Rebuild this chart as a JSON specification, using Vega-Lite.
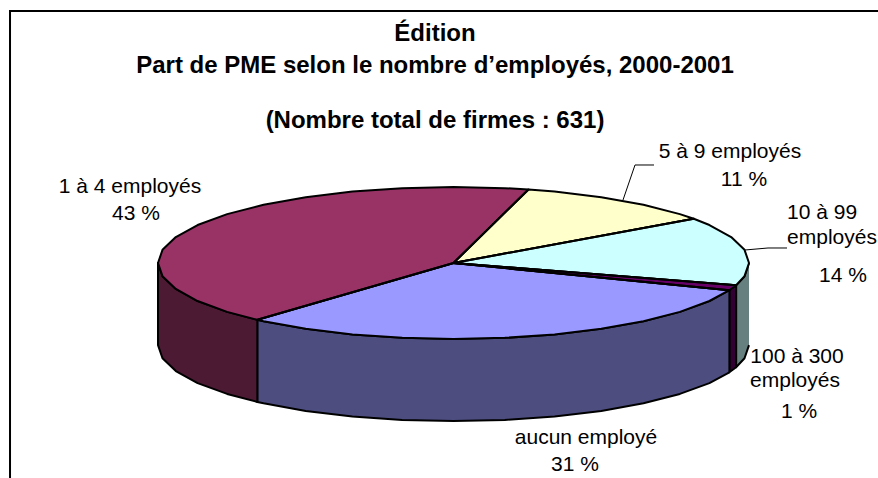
{
"$schema":"https://vega.github.io/schema/vega-lite/v6.json",
"width":878,"height":478,"padding":0,"autosize":"none",
"background":"white",
"title":{"text":["Édition","Part de PME selon le nombre d’employés, 2000-2001"],"subtitle":"(Nombre total de firmes : 631)","font":"Liberation Sans","fontSize":24,"fontWeight":"bold","color":"#000","lineHeight":32,"subtitleFont":"Liberation Sans","subtitleFontSize":24,"subtitleFontWeight":"bold","subtitleColor":"#000","subtitleLineHeight":29,"subtitlePadding":31,"anchor":"middle","dx":-4,"offset":-133,"orient":"top"},
"config":{"view":{"stroke":null}},
"datasets":{
"outline":[
{"p":"wall 10-99","v":1,"x":1,"y":0},{"p":"wall 10-99","v":2,"x":0.9848,"y":-0.1736},{"p":"wall 10-99","v":3,"x":0.9563,"y":-0.2924},{"p":"wall 10-99","v":4,"x":0.9563,"y":-1.3724},{"p":"wall 10-99","v":5,"x":0.9848,"y":-1.2536},{"p":"wall 10-99","v":6,"x":1,"y":-1.08},
{"p":"wall 100-300","v":1,"x":0.9563,"y":-0.2924},{"p":"wall 100-300","v":2,"x":0.9336,"y":-0.3584},{"p":"wall 100-300","v":3,"x":0.9336,"y":-1.4384},{"p":"wall 100-300","v":4,"x":0.9563,"y":-1.3724},
{"p":"wall aucun","v":1,"x":0.9336,"y":-0.3584},{"p":"wall aucun","v":2,"x":0.866,"y":-0.5},{"p":"wall aucun","v":3,"x":0.766,"y":-0.6428},{"p":"wall aucun","v":4,"x":0.6428,"y":-0.766},{"p":"wall aucun","v":5,"x":0.5,"y":-0.866},{"p":"wall aucun","v":6,"x":0.342,"y":-0.9397},{"p":"wall aucun","v":7,"x":0.1736,"y":-0.9848},{"p":"wall aucun","v":8,"x":0,"y":-1},{"p":"wall aucun","v":9,"x":-0.1736,"y":-0.9848},{"p":"wall aucun","v":10,"x":-0.342,"y":-0.9397},{"p":"wall aucun","v":11,"x":-0.5,"y":-0.866},{"p":"wall aucun","v":12,"x":-0.6428,"y":-0.766},{"p":"wall aucun","v":13,"x":-0.6639,"y":-0.7478},
{"p":"wall aucun","v":14,"x":-0.6639,"y":-1.8278},{"p":"wall aucun","v":15,"x":-0.6428,"y":-1.846},{"p":"wall aucun","v":16,"x":-0.5,"y":-1.946},{"p":"wall aucun","v":17,"x":-0.342,"y":-2.0197},{"p":"wall aucun","v":18,"x":-0.1736,"y":-2.0648},{"p":"wall aucun","v":19,"x":0,"y":-2.08},{"p":"wall aucun","v":20,"x":0.1736,"y":-2.0648},{"p":"wall aucun","v":21,"x":0.342,"y":-2.0197},{"p":"wall aucun","v":22,"x":0.5,"y":-1.946},{"p":"wall aucun","v":23,"x":0.6428,"y":-1.846},{"p":"wall aucun","v":24,"x":0.766,"y":-1.7228},{"p":"wall aucun","v":25,"x":0.866,"y":-1.58},{"p":"wall aucun","v":26,"x":0.9336,"y":-1.4384},
{"p":"wall 1-4","v":1,"x":-0.6639,"y":-0.7478},{"p":"wall 1-4","v":2,"x":-0.766,"y":-0.6428},{"p":"wall 1-4","v":3,"x":-0.866,"y":-0.5},{"p":"wall 1-4","v":4,"x":-0.9397,"y":-0.342},{"p":"wall 1-4","v":5,"x":-0.9848,"y":-0.1736},{"p":"wall 1-4","v":6,"x":-1,"y":0},{"p":"wall 1-4","v":7,"x":-1,"y":-1.08},{"p":"wall 1-4","v":8,"x":-0.9848,"y":-1.2536},{"p":"wall 1-4","v":9,"x":-0.9397,"y":-1.422},{"p":"wall 1-4","v":10,"x":-0.866,"y":-1.58},{"p":"wall 1-4","v":11,"x":-0.766,"y":-1.7228},{"p":"wall 1-4","v":12,"x":-0.6639,"y":-1.8278},
{"p":"aucun employé","v":1,"x":0,"y":0},{"p":"aucun employé","v":2,"x":0.9336,"y":-0.3584},{"p":"aucun employé","v":3,"x":0.866,"y":-0.5},{"p":"aucun employé","v":4,"x":0.766,"y":-0.6428},{"p":"aucun employé","v":5,"x":0.6428,"y":-0.766},{"p":"aucun employé","v":6,"x":0.5,"y":-0.866},{"p":"aucun employé","v":7,"x":0.342,"y":-0.9397},{"p":"aucun employé","v":8,"x":0.1736,"y":-0.9848},{"p":"aucun employé","v":9,"x":0,"y":-1},{"p":"aucun employé","v":10,"x":-0.1736,"y":-0.9848},{"p":"aucun employé","v":11,"x":-0.342,"y":-0.9397},{"p":"aucun employé","v":12,"x":-0.5,"y":-0.866},{"p":"aucun employé","v":13,"x":-0.6428,"y":-0.766},{"p":"aucun employé","v":14,"x":-0.6639,"y":-0.7478},{"p":"aucun employé","v":15,"x":0,"y":0},
{"p":"1 à 4 employés","v":1,"x":0,"y":0},{"p":"1 à 4 employés","v":2,"x":-0.6639,"y":-0.7478},{"p":"1 à 4 employés","v":3,"x":-0.766,"y":-0.6428},{"p":"1 à 4 employés","v":4,"x":-0.866,"y":-0.5},{"p":"1 à 4 employés","v":5,"x":-0.9397,"y":-0.342},{"p":"1 à 4 employés","v":6,"x":-0.9848,"y":-0.1736},{"p":"1 à 4 employés","v":7,"x":-1,"y":0},{"p":"1 à 4 employés","v":8,"x":-0.9848,"y":0.1736},{"p":"1 à 4 employés","v":9,"x":-0.9397,"y":0.342},{"p":"1 à 4 employés","v":10,"x":-0.866,"y":0.5},{"p":"1 à 4 employés","v":11,"x":-0.766,"y":0.6428},{"p":"1 à 4 employés","v":12,"x":-0.6428,"y":0.766},{"p":"1 à 4 employés","v":13,"x":-0.5,"y":0.866},{"p":"1 à 4 employés","v":14,"x":-0.342,"y":0.9397},{"p":"1 à 4 employés","v":15,"x":-0.1736,"y":0.9848},{"p":"1 à 4 employés","v":16,"x":0,"y":1},{"p":"1 à 4 employés","v":17,"x":0.1736,"y":0.9848},{"p":"1 à 4 employés","v":18,"x":0.2538,"y":0.9673},{"p":"1 à 4 employés","v":19,"x":0,"y":0},
{"p":"5 à 9 employés","v":1,"x":0,"y":0},{"p":"5 à 9 employés","v":2,"x":0.2538,"y":0.9673},{"p":"5 à 9 employés","v":3,"x":0.342,"y":0.9397},{"p":"5 à 9 employés","v":4,"x":0.5,"y":0.866},{"p":"5 à 9 employés","v":5,"x":0.6428,"y":0.766},{"p":"5 à 9 employés","v":6,"x":0.766,"y":0.6428},{"p":"5 à 9 employés","v":7,"x":0.8131,"y":0.5821},{"p":"5 à 9 employés","v":8,"x":0,"y":0},
{"p":"10 à 99 employés","v":1,"x":0,"y":0},{"p":"10 à 99 employés","v":2,"x":0.8131,"y":0.5821},{"p":"10 à 99 employés","v":3,"x":0.866,"y":0.5},{"p":"10 à 99 employés","v":4,"x":0.9397,"y":0.342},{"p":"10 à 99 employés","v":5,"x":0.9848,"y":0.1736},{"p":"10 à 99 employés","v":6,"x":1,"y":0},{"p":"10 à 99 employés","v":7,"x":0.9848,"y":-0.1736},{"p":"10 à 99 employés","v":8,"x":0.9563,"y":-0.2924},{"p":"10 à 99 employés","v":9,"x":0,"y":0},
{"p":"100 à 300 employés","v":1,"x":0,"y":0},{"p":"100 à 300 employés","v":2,"x":0.9563,"y":-0.2924},{"p":"100 à 300 employés","v":3,"x":0.9336,"y":-0.3584},{"p":"100 à 300 employés","v":4,"x":0,"y":0}
],
"lines":[
{"k":"frame","v":1,"x":-1.5008,"y":-2.8289},{"k":"frame","v":2,"x":-1.5008,"y":3.3158},{"k":"frame","v":3,"x":1.4365,"y":3.3158},
{"k":"e1","v":1,"x":-0.6639,"y":-0.7478},{"k":"e1","v":2,"x":-0.6639,"y":-1.8278},
{"k":"e2","v":1,"x":0.9336,"y":-0.3584},{"k":"e2","v":2,"x":0.9336,"y":-1.4384},
{"k":"e3","v":1,"x":0.9563,"y":-0.2924},{"k":"e3","v":2,"x":0.9563,"y":-1.3724},
{"k":"e4","v":1,"x":0,"y":0},{"k":"e4","v":2,"x":-0.6639,"y":-0.7478},
{"k":"e5","v":1,"x":0,"y":0},{"k":"e5","v":2,"x":0.2538,"y":0.9673},
{"k":"e6","v":1,"x":0,"y":0},{"k":"e6","v":2,"x":0.8131,"y":0.5821},
{"k":"e7","v":1,"x":0,"y":0},{"k":"e7","v":2,"x":0.9563,"y":-0.2924},
{"k":"e8","v":1,"x":0,"y":0},{"k":"e8","v":2,"x":0.9336,"y":-0.3584}
],
"leaders":[
{"k":"5 à 9","v":1,"x":0.5736,"y":0.8289},{"k":"5 à 9","v":2,"x":0.6142,"y":1.2895},{"k":"5 à 9","v":3,"x":0.6785,"y":1.2895},
{"k":"10 à 99","v":1,"x":0.9865,"y":0.1711},{"k":"10 à 99","v":2,"x":1.0643,"y":0.1974},{"k":"10 à 99","v":3,"x":1.1286,"y":0.1974}
],
"labels":[
{"t":"1 à 4 employés","x":-1.0948,"y":1.0},{"t":"43 %","x":-1.0745,"y":0.6447},
{"t":"5 à 9 employés","x":0.9357,"y":1.4605},{"t":"11 %","x":0.9831,"y":1.0921},
{"t":"10 à 99","x":1.2471,"y":0.6579},{"t":"employés","x":1.2809,"y":0.3289},{"t":"14 %","x":1.3181,"y":-0.1711},
{"t":"100 à 300","x":1.1624,"y":-1.2368},{"t":"employés","x":1.1557,"y":-1.5526},{"t":"1 %","x":1.1692,"y":-1.9605},
{"t":"aucun employé","x":0.4484,"y":-2.3026},{"t":"31 %","x":0.4112,"y":-2.6579}
]
},
"encoding":{
"x":{"field":"x","type":"quantitative","scale":{"domain":[-1.5347,1.4365],"nice":false,"zero":false},"axis":null},
"y":{"field":"y","type":"quantitative","scale":{"domain":[-2.8289,3.4605],"nice":false,"zero":false},"axis":null}
},
"layer":[
{"data":{"name":"outline"},"mark":{"type":"line","strokeWidth":2,"stroke":"#000","strokeJoin":"round","clip":false},
"encoding":{"order":{"field":"v","type":"quantitative"},
"fill":{"field":"p","type":"nominal","legend":null,"scale":{"domain":["wall 10-99","wall 100-300","wall aucun","wall 1-4","aucun employé","1 à 4 employés","5 à 9 employés","10 à 99 employés","100 à 300 employés"],"range":["#668080","#330033","#4d4d80","#4d1a33","#9999ff","#993366","#ffffcc","#ccffff","#660066"]}}}},
{"data":{"name":"lines"},"mark":{"type":"line","strokeWidth":2,"color":"#000"},
"encoding":{"order":{"field":"v","type":"quantitative"},"detail":{"field":"k"}}},
{"data":{"name":"leaders"},"mark":{"type":"line","strokeWidth":1,"color":"#000"},
"encoding":{"order":{"field":"v","type":"quantitative"},"detail":{"field":"k"}}},
{"data":{"name":"labels"},"mark":{"type":"text","font":"Liberation Sans","fontSize":21,"align":"center","baseline":"middle","color":"#000"},
"encoding":{"text":{"field":"t"}}}
]
}
